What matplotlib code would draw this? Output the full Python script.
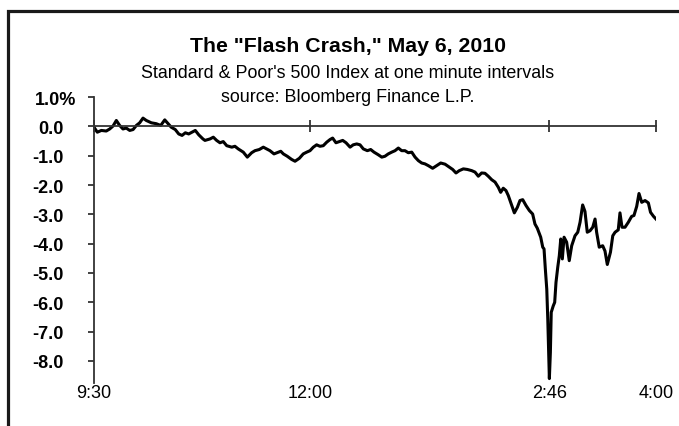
import matplotlib
matplotlib.use("Agg")
import matplotlib.pyplot as plt
from matplotlib.patches import Rectangle
from matplotlib.transforms import ScaledTranslation

plt.rcParams['font.family'] = ['Liberation Sans', 'DejaVu Sans']

# minutes after the 9:30 open, and % change from the open
minutes = [
    0, 2.3, 5.1, 8.5, 10.9, 13.2, 15.5, 17.8, 20.1, 22.4, 24.8, 27.1, 29.4, 31.7,
    34.0, 36.3, 39.8, 43.2, 46.3, 49.1, 51.4, 53.6, 56.4, 58.8, 61.1, 63.4, 65.7,
    68.0, 70.3, 72.7, 75.6, 77.0, 80.5, 82.8, 85.1, 87.4, 89.7, 92.1, 95.6, 97.8,
    100.1, 103.6, 106.4, 109.4, 111.7, 114.7, 117.5, 119.8, 122.1, 124.9, 127.9,
    129.6, 131.4, 134.1, 137.2, 139.5, 142.5, 145.2, 147.6, 149.9, 152.2, 154.5,
    156.8, 159.1, 161.5, 163.8, 165.6, 167.9, 170.2, 172.6, 174.9, 177.7, 179.9,
    182.3, 184.6, 186.9, 189.7, 192.0, 194.3, 197.3, 199.7, 201.9, 204.2, 206.6,
    208.9, 211.2, 213.5, 215.8, 218.1, 220.5, 222.8, 225.1, 227.4, 229.7, 232.0,
    235.0, 237.8, 240.6, 243.6, 246.6, 248.9, 251.2, 253.5, 256.3, 259.1, 262.1,
    264.4, 266.7, 269.0, 271.3, 273.6, 276.0, 278.3, 280.6, 282.2, 284.0, 285.9,
    287.5, 289.9, 291.7, 293.8, 295.6, 297.5, 299.8, 302.1, 304.4, 306.0, 307.6,
    310.0, 311.4, 312.3, 313.2, 314.2, 314.9, 315.6, 316.0, 316.7, 317.3, 318.7,
    319.7, 320.6, 321.8, 322.9, 323.9, 325.0, 326.2, 328.0, 329.8, 331.5, 333.8,
    335.7, 337.3, 339.1, 340.7, 342.3, 344.2, 346.1, 347.7, 348.8, 350.6, 353.0,
    354.6, 356.2, 358.4, 360.0, 361.6, 363.8, 365.0, 366.4, 368.5, 370.8, 373.1,
    374.7, 376.6, 378.2, 380.1, 382.4, 384.7, 386.2, 388.3, 390.0,
]
pct = [
    -0.03, -0.20, -0.14, -0.16, -0.09, 0.01, 0.20, 0.03, -0.09, -0.06, -0.14, -0.11,
    0.03, 0.12, 0.28, 0.20, 0.12, 0.09, 0.03, 0.22, 0.09, -0.03, -0.11, -0.26, -0.31,
    -0.22, -0.26, -0.20, -0.14, -0.29, -0.43, -0.48, -0.43, -0.37, -0.48, -0.56,
    -0.52, -0.66, -0.71, -0.68, -0.77, -0.88, -1.05, -0.90, -0.83, -0.79, -0.71,
    -0.77, -0.83, -0.94, -0.88, -0.85, -0.94, -1.02, -1.13, -1.19, -1.09, -0.94,
    -0.88, -0.83, -0.71, -0.63, -0.68, -0.66, -0.54, -0.45, -0.40, -0.56, -0.52,
    -0.48, -0.56, -0.71, -0.63, -0.60, -0.63, -0.77, -0.83, -0.79, -0.88, -0.97,
    -1.05, -1.02, -0.94, -0.88, -0.83, -0.74, -0.83, -0.83, -0.90, -0.88, -1.05,
    -1.17, -1.25, -1.28, -1.34, -1.43, -1.34, -1.25, -1.29, -1.39, -1.47, -1.59,
    -1.51, -1.45, -1.47, -1.51, -1.56, -1.70, -1.59, -1.60, -1.70, -1.82, -1.90,
    -2.08, -2.25, -2.11, -2.19, -2.36, -2.70, -2.95, -2.76, -2.53, -2.50, -2.70,
    -2.87, -2.99, -3.33, -3.47, -3.78, -4.12, -4.18, -4.86, -5.55, -6.57, -7.82,
    -8.60, -7.71, -6.34, -6.12, -6.00, -5.32, -4.81, -4.41, -3.84, -4.52, -3.78,
    -3.95, -4.58, -4.07, -3.73, -3.61, -3.27, -2.68, -2.90, -3.61, -3.56, -3.44,
    -3.16, -3.61, -4.12, -4.07, -4.25, -4.71, -4.29, -3.73, -3.61, -3.53, -2.95,
    -3.44, -3.44, -3.27, -3.07, -3.04, -2.73, -2.29, -2.59, -2.53, -2.61, -2.93,
    -3.07, -3.16,
]

time_ticks = [0, 150, 316, 390]
time_labels = ['9:30', '12:00', '2:46', '4:00']
pct_ticks = [1, 0, -1, -2, -3, -4, -5, -6, -7, -8]
pct_labels = ['1.0%', '0.0', '-1.0', '-2.0', '-3.0', '-4.0', '-5.0', '-6.0', '-7.0', '-8.0']

W, H = 679, 427
fig = plt.figure(figsize=(W / 100, H / 100), dpi=100)
ax = fig.add_axes([94 / W, 1 - 384 / H, (656 - 94) / W, (384 - 98) / H])

ax.plot(minutes, pct, color='black', lw=2.2, solid_joinstyle='round')
ax.set_xlim(0, 390)
ax.set_ylim(-8.75, 1.0)

axis_col = '#333333'
for s in ['top', 'right']:
    ax.spines[s].set_visible(False)
ax.spines['left'].set_color(axis_col)
ax.spines['left'].set_linewidth(1.3)
ax.spines['bottom'].set_position(('data', 0))
ax.spines['bottom'].set_color(axis_col)
ax.spines['bottom'].set_linewidth(1.3)

ax.set_xticks(time_ticks)
ax.tick_params(axis='x', direction='inout', length=9, width=1.3, color=axis_col,
               labelbottom=False)

ax.set_yticks(pct_ticks)
ax.set_yticklabels(pct_labels, fontsize=13, fontweight='bold')
ax.tick_params(axis='y', direction='out', length=4, width=1.3, color=axis_col, pad=18)
for t in ax.get_yticklabels():
    if t.get_text().endswith('%'):
        t.set_transform(t.get_transform() + ScaledTranslation(0.13, 0, fig.dpi_scale_trans))

sec = ax.secondary_xaxis('bottom')
sec.set_xticks(time_ticks, time_labels)
sec.tick_params(length=0, pad=1, labelsize=13)
sec.spines['bottom'].set_visible(False)

cx = 348 / W
fig.text(cx, 1 - 47 / H, 'The "Flash Crash," May 6, 2010', ha='center', va='center',
         fontsize=15.3, fontweight='bold')
fig.text(cx, 1 - 74 / H, "Standard & Poor's 500 Index at one minute intervals",
         ha='center', va='center', fontsize=12.9)
fig.text(cx, 1 - 97 / H, 'source: Bloomberg Finance L.P.', ha='center', va='center',
         fontsize=12.9)

fig.add_artist(Rectangle((7.5 / W, -0.1), 1.2, 1.1 - 11.5 / H, transform=fig.transFigure,
                         fill=False, edgecolor='#1a1a1a', lw=2.3))

fig.savefig('out.png', dpi=100, facecolor='white')
